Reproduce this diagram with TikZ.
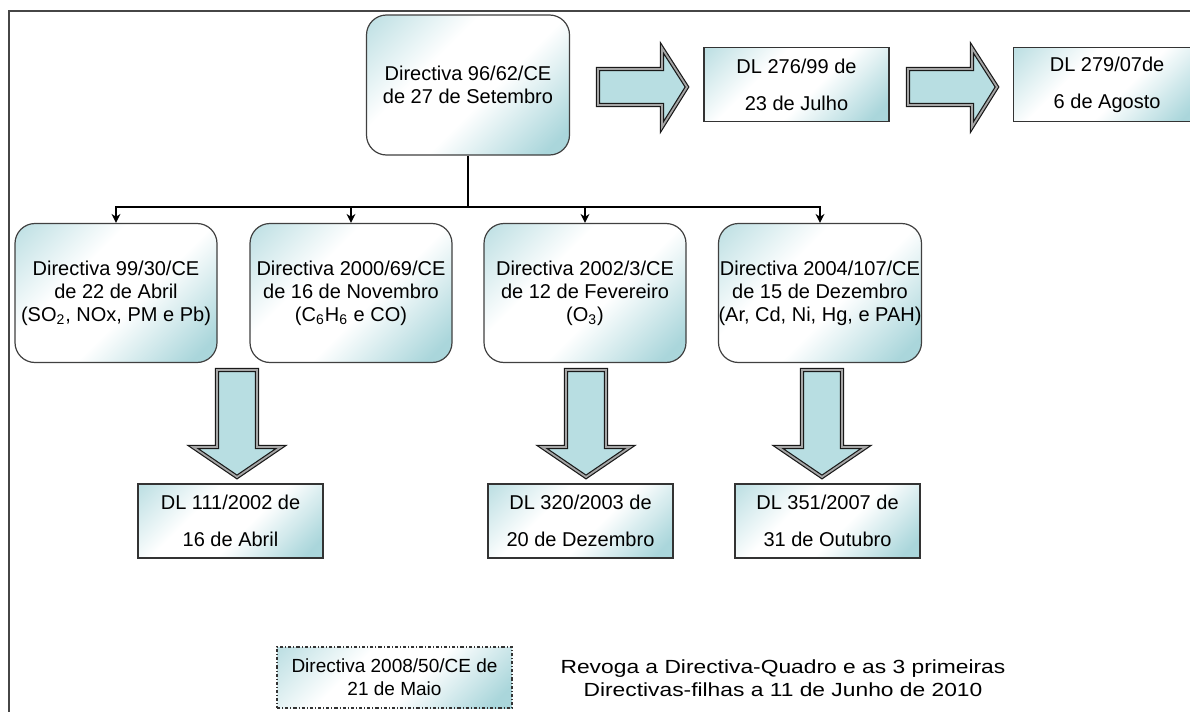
\documentclass[tikz,border=0pt]{standalone}
\usepackage{fontspec}
\setmainfont{Liberation Sans}
\newfontfamily\widefont[FakeStretch=1.2]{Liberation Sans}
\usetikzlibrary{arrows.meta, positioning}
\definecolor{BoxTeal}{RGB}{170,214,219}
\definecolor{ArrowTeal}{RGB}{184,222,226}
\definecolor{FrameGray}{RGB}{70,70,70}
\pgfdeclareverticalshading{boxglow}{100bp}{color(0bp)=(BoxTeal); color(20bp)=(BoxTeal);
  color(44bp)=(white); color(62bp)=(white); color(84bp)=(BoxTeal!75); color(100bp)=(BoxTeal!75)}
\tikzset{
  directive/.style={rectangle, rounded corners=10pt, draw=black!75, line width=0.6pt,
    shading=boxglow, shading angle=45,
    align=center, inner sep=0pt, minimum width=101pt, minimum height=69.5pt,
    font=\fontsize{10}{11.5}\selectfont},
  decree/.style={rectangle, draw=black!80, line width=0.6pt,
    shading=boxglow, shading angle=45,
    align=center, inner sep=0pt, minimum width=92.5pt, minimum height=37pt,
    font=\fontsize{10}{18.5}\selectfont},
  repeal/.style={decree, dash pattern=on 1.6pt off 1pt on 0.5pt off 1pt,
    minimum width=117.5pt, minimum height=30.5pt, font=\fontsize{9.5}{11.5}\selectfont},
  note/.style={align=center, inner sep=0pt, font=\widefont\fontsize{9.5}{11.5}\selectfont},
  blockarrow/.style={draw=black!90, line width=0.6pt, double=gray!70, double distance=0.9pt,
    fill=ArrowTeal, line join=miter},
  tree/.style={line width=1pt, black},
  treearrow/.style={tree, -{Stealth[length=4.5pt, width=4.5pt]}},
  frame/.style={line width=1pt, FrameGray}
}
\begin{document}
\begin{tikzpicture}[x=0.5pt, y=-0.5pt]
  \useasboundingbox (0,0) rectangle (1190,712);
  \clip (0,0) rectangle (1190,712);
  % page frame
  \draw[frame] (9,712) -- (9,11) -- (1190,11);

  % framework directive and its transpositions
  \node[directive, minimum width=101.5pt, minimum height=70pt] (dir) at (468,85)
    {Directiva 96/62/CE\\de 27 de Setembro};
  \node[decree] (dl1) at (796.5,84.5) {DL 276/99 de\\23 de Julho};
  \node[decree, minimum width=93.5pt, anchor=west] (dl2) at (1013,84.5) {DL 279/07de\\6 de Agosto};

  \foreach \x in {598,908}
    \draw[blockarrow] (\x,69) -- ++(64,0) -- ++(0,-21) -- ++(25,39) -- ++(-25,40)
      -- ++(0,-22) -- ++(-64,0) -- cycle;

  % daughter directives
  \node[directive] (d1) at (116,293) {Directiva 99/30/CE\\de 22 de Abril\\(SO\textsubscript{2}, NOx, PM e Pb)};
  \node[directive] (d2) at (351,293) {Directiva 2000/69/CE\\de 16 de Novembro\\(C\textsubscript{6}H\textsubscript{6} e CO)};
  \node[directive] (d3) at (585,293) {Directiva 2002/3/CE\\de 12 de Fevereiro\\(O\textsubscript{3})};
  \node[directive] (d4) at (820,293) {Directiva 2004/107/CE\\de 15 de Dezembro\\(Ar, Cd, Ni, Hg, e PAH)};

  \coordinate (bus) at (468,207);
  \draw[tree] (dir.south) -- (bus);
  \foreach \n in {d1,d2,d3,d4}
    \draw[treearrow] (bus) -| (\n.north);

  % transposition decrees
  \foreach \x in {237,586,822}
    \draw[blockarrow] ({\x-20},370) -- ({\x+20},370) -- ({\x+20},447) -- ({\x+44},447)
      -- (\x,477) -- ({\x-44},447) -- ({\x-20},447) -- cycle;
  \node[decree] (dl3) at (230.5,521) {DL 111/2002 de\\16 de Abril};
  \node[decree] (dl4) at (580.5,521) {DL 320/2003 de\\20 de Dezembro};
  \node[decree] (dl5) at (827.5,521) {DL 351/2007 de\\31 de Outubro};

  % new directive
  \node[repeal] (new) at (394.5,677.5) {Directiva 2008/50/CE de\\21 de Maio};
  \node[note] (repealtext) at (783,678) {Revoga a Directiva-Quadro e as 3 primeiras\\Directivas-filhas a 11 de Junho de 2010};
\end{tikzpicture}
\end{document}
